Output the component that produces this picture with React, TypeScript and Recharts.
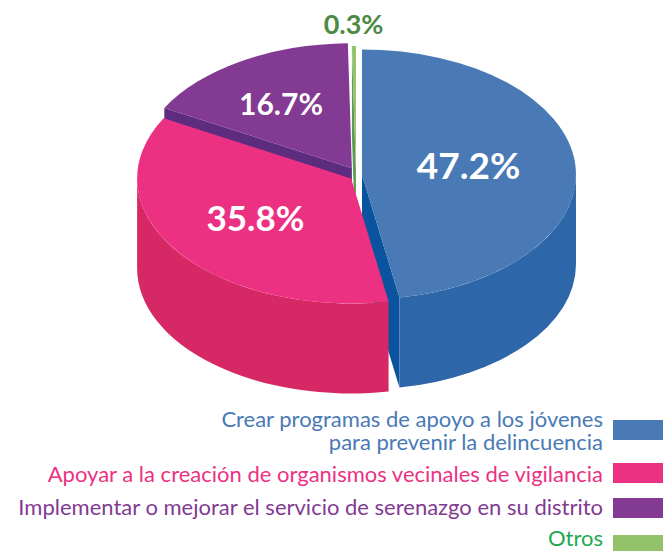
import React from "react";
import { PieChart, Pie, Legend } from "recharts";

// categories and values
const CATEGORIES = [
  "Crear programas de apoyo a los jóvenes\npara prevenir la delincuencia",
  "Apoyar a la creación de organismos vecinales de vigilancia",
  "Implementar o mejorar el servicio de serenazgo en su distrito",
  "Otros",
];
const VALUES = [47.2, 35.8, 16.7, 0.3];

const TOP_COLORS = ["#4A7AB5", "#EC3183", "#823A92", "#92C26A"];
const SIDE_COLORS = ["#2E66AA", "#D62865", "#6A2E83", "#5E9A52"];
const EDGE_COLORS = ["#0A539E", "#B81F57", "#5E2C7E", "#5F9B55"];
const LEGEND_COLORS = ["#4A7AB5", "#EC3183", "#823A92", "#22A84F"];
const LABEL_COLORS = ["#FFFFFF", "#FFFFFF", "#FFFFFF", "#4D8A45"];

const data = CATEGORIES.map((name, i) => ({ name, value: VALUES[i] }));

// 3d look
const TILT = 125 / 214;
const DEPTH = 90;
const EXPLODE = [6, 6, 8, 4];
const LABEL_K = [0.5, 0.55, 0.64, 1.18];
const LABEL_SIZE = [37, 35, 30, 27];
const LABEL_DY = [-4, -2, 3, 0];
const RAD = Math.PI / 180;

const geom = (props: any) => {
  const { cx, cy, outerRadius, midAngle, index } = props;
  const rx = outerRadius;
  const ry = outerRadius * TILT;
  const d = EXPLODE[index] ?? 0;
  const ox = cx + d * Math.cos(midAngle * RAD);
  const oy = cy - d * Math.sin(midAngle * RAD);
  const pt = (a: number) => [ox + rx * Math.cos(a * RAD), oy - ry * Math.sin(a * RAD)];
  return { rx, ry, ox, oy, pt };
};

// side walls (drawn first)
const renderWalls = (props: any) => {
  const { startAngle, endAngle, index } = props;
  const { rx, ry, ox, oy, pt } = geom(props);
  const parts: React.ReactNode[] = [];

  const edge = (a: number, key: string) => {
    const [x, y] = pt(a);
    parts.push(
      <polygon
        key={key}
        points={`${ox},${oy} ${x},${y} ${x},${y + DEPTH} ${ox},${oy + DEPTH}`}
        fill={EDGE_COLORS[index]}
      />
    );
  };
  if (Math.cos(startAngle * RAD) < -1e-3) edge(startAngle, "s");
  if (Math.cos(endAngle * RAD) > 1e-3) edge(endAngle, "e");

  // outer wall, front half only
  const b = Math.min(startAngle, 0);
  const a = Math.max(endAngle, -180);
  if (a < b) {
    const [x1, y1] = pt(b);
    const [x2, y2] = pt(a);
    const large = b - a > 180 ? 1 : 0;
    parts.push(
      <path
        key="o"
        d={`M${x1},${y1} A${rx},${ry} 0 ${large} 1 ${x2},${y2} L${x2},${y2 + DEPTH} A${rx},${ry} 0 ${large} 0 ${x1},${y1 + DEPTH} Z`}
        fill={SIDE_COLORS[index]}
      />
    );
  }
  return <g>{parts}</g>;
};

// top faces + percentages
const renderTops = (props: any) => {
  const { startAngle, endAngle, midAngle, index, value } = props;
  const { rx, ry, ox, oy, pt } = geom(props);
  const [x1, y1] = pt(startAngle);
  const [x2, y2] = pt(endAngle);
  const large = startAngle - endAngle > 180 ? 1 : 0;
  const k = LABEL_K[index];
  const lx = ox + k * rx * Math.cos(midAngle * RAD);
  const ly = oy - k * ry * Math.sin(midAngle * RAD) + LABEL_DY[index];
  return (
    <g>
      <path
        d={`M${ox},${oy} L${x1},${y1} A${rx},${ry} 0 ${large} 1 ${x2},${y2} Z`}
        fill={TOP_COLORS[index]}
      />
      <text
        x={lx}
        y={ly}
        textAnchor="middle"
        dominantBaseline="central"
        fontFamily="Lato, sans-serif"
        fontWeight={700}
        fontSize={LABEL_SIZE[index]}
        fill={LABEL_COLORS[index]}
      >
        {`${value.toFixed(1)}%`}
      </text>
    </g>
  );
};

const LEGEND_ROWS = [
  { swatch: 15, y: 22 },
  { swatch: 58, y: 77 },
  { swatch: 93, y: 110 },
  { swatch: 130, y: 141 },
];

const renderLegend = () => (
  <svg width={663} height={146} style={{ display: "block" }}>
    {CATEGORIES.map((name, i) => (
      <g key={name}>
        <rect x={613} y={LEGEND_ROWS[i].swatch} width={50} height={20} fill={TOP_COLORS[i]} />
        <text
          x={603}
          y={LEGEND_ROWS[i].y}
          textAnchor="end"
          fontFamily="Lato, sans-serif"
          fontSize={22}
          fill={LEGEND_COLORS[i]}
        >
          {name.split("\n").map((line, j) => (
            <tspan key={j} x={603} dy={j === 0 ? 0 : 23}>
              {line}
            </tspan>
          ))}
        </text>
      </g>
    ))}
  </svg>
);

export default function App() {
  return (
    <div style={{ position: "absolute", left: 0, top: 0, width: 663, height: 551, background: "#fff" }}>
      <PieChart width={663} height={551} margin={{ top: 0, right: 0, bottom: 0, left: 0 }}>
        <Pie
          data={data}
          dataKey="value"
          nameKey="name"
          cx={356}
          cy={175}
          outerRadius={214}
          startAngle={90}
          endAngle={-270}
          fill="none"
          stroke="none"
          label={renderWalls}
          labelLine={false}
          legendType="none"
          isAnimationActive={false}
        />
        <Pie
          data={data}
          dataKey="value"
          nameKey="name"
          cx={356}
          cy={175}
          outerRadius={214}
          startAngle={90}
          endAngle={-270}
          fill="none"
          stroke="none"
          label={renderTops}
          labelLine={false}
          legendType="none"
          isAnimationActive={false}
        />
        <Legend
          content={renderLegend}
          wrapperStyle={{ position: "absolute", left: 0, top: 405, width: 663, height: 146 }}
        />
      </PieChart>
    </div>
  );
}
